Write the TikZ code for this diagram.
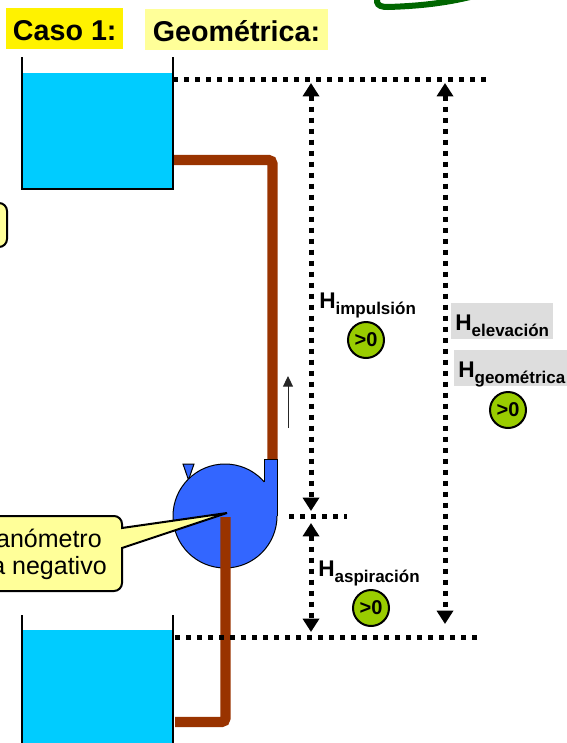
\documentclass[tikz,border=0pt]{standalone}
\usepackage{fontspec}
\setmainfont{Liberation Sans}
\usetikzlibrary{arrows.meta, positioning, calc}
\definecolor{water}{HTML}{00CCFF}
\definecolor{pipebrown}{HTML}{993300}
\definecolor{pumpblue}{HTML}{3366FF}
\definecolor{paleyellow}{HTML}{FFFF99}
\definecolor{limegreen}{HTML}{99CC00}
\definecolor{boxgray}{HTML}{DDDDDD}
\definecolor{darkgreen}{HTML}{006600}

\newcommand{\hsub}[1]{{\fontsize{17}{17}\selectfont H}\raisebox{-4.5pt}{\fontsize{12.75}{13}\selectfont #1}}

\begin{document}
\begin{tikzpicture}[
    x=0.75pt, y=-0.75pt,
    level line/.style={line width=3.75pt, dash pattern=on 3.75pt off 4.5pt},
    dim line/.style={level line, {Triangle[width=12pt,length=10pt]}-{Triangle[width=12pt,length=10pt]}},
    tube/.style={pipebrown, line width=7.75pt, rounded corners=3pt},
    tank wall/.style={line width=1.5pt},
    positive/.style={circle, fill=limegreen, draw, line width=1.5pt, minimum size=27pt, inner sep=0pt, font=\fontsize{15}{15}\selectfont\bfseries},
    head label/.style={anchor=base west, inner sep=0pt, font=\bfseries},
    gray label/.style={head label, fill=boxgray, inner xsep=3pt, text height=20.5pt, text depth=6.5pt},
    title box/.style={anchor=base, inner sep=0pt, text height=24.2pt, text depth=6.6pt, font=\fontsize{21.5}{22}\selectfont\bfseries},
    note text/.style={anchor=base east, inner sep=0pt, font=\fontsize{18.75}{20}\selectfont},
]
\useasboundingbox (0,0) rectangle (567,743);

\draw[darkgreen, line width=4.5pt, line cap=round] (377,-5) -- (377,2) .. controls (378,6) and (382,7) .. (388,7) .. controls (420,6) and (445,3) .. (470,-3);

\fill[water] (22,73) rectangle (173,189);
\draw[tank wall] (22,57) -- (22,189) -- (173,189) -- (173,57);
\fill[water] (22,630) rectangle (173,750);
\draw[tank wall] (22,615) -- (22,750);
\draw[tank wall] (173,615) -- (173,750);

\coordinate (upperOut) at (174,160);
\coordinate (outletTop) at (272.5,459);
\draw[tube] (upperOut) -| (outletTop);

\filldraw[fill=pumpblue, line width=0.75pt] (183,464) -- (194,464) -- (188.5,480) -- cycle;
\node[circle, fill=pumpblue, draw, line width=0.75pt, minimum size=78pt, inner sep=0pt] (pump) at (225,516) {};
\fill[pumpblue] (264,459) rectangle (277,516);
\draw[line width=0.75pt] (264,482) -- (264,459) -- (277,459) -- (277,516);

\coordinate (suctionTop) at (225.5,517);
\coordinate (lowerIn) at (175,722);
\draw[tube] (suctionTop) |- (lowerIn);

\coordinate (gauge) at (227,513);
\filldraw[fill=paleyellow, line width=1.5pt] (-10,516) [rounded corners=6pt]-- (122,516) [sharp corners]-- (122,528) -- (gauge) -- (122,548) [rounded corners=6pt]-- (122,591) -- (-10,591) -- cycle;
\node[note text] (gaugeA) at (102,547) {anómetro};
\node[note text] (gaugeB) at (107,574) {a negativo};

\filldraw[fill=paleyellow, line width=1.5pt, rounded corners=6pt] (-20,203) rectangle (7,247);

\coordinate (topLevelA) at (173,79);
\coordinate (topLevelB) at (488,79);
\coordinate (pumpLevelA) at (289,516);
\coordinate (pumpLevelB) at (347,516);
\coordinate (lowLevelA) at (175,637);
\coordinate (lowLevelB) at (483,637);
\draw[level line] (topLevelA) -- (topLevelB);
\draw[level line] (pumpLevelA) -- (pumpLevelB);
\draw[level line] (lowLevelA) -- (lowLevelB);

\coordinate (impTop) at (311,83);
\coordinate (impBot) at (311,511);
\coordinate (aspTop) at (311,523);
\coordinate (aspBot) at (311,632);
\coordinate (elevTop) at (445,83);
\coordinate (elevBot) at (445,624);
\draw[dim line] (impTop) -- (impBot);
\draw[dim line] (aspTop) -- (aspBot);
\draw[dim line] (elevTop) -- (elevBot);

\node[head label] (himp) at (319,308) {\hsub{impulsión}};
\node[positive] (himpSign) at (366,340) {>0};
\node[head label] (hasp) at (318,576) {\hsub{aspiración}};
\node[positive] (haspSign) at (371,608) {>0};
\node[gray label] (helev) at (451,330) {\hsub{elevación}};
\node[gray label] (hgeo) at (454,377) {\hsub{geométrica}};
\node[positive] (hgeoSign) at (508,410) {>0};

\coordinate (flowA) at (288,428);
\coordinate (flowB) at (288,376);
\draw[black!85, line width=0.75pt, -{Triangle[width=7.5pt,length=8pt]}] (flowA) -- (flowB);

\node[title box, fill=yellow, minimum width=87.4pt] (caso) at (64.75,40) {Caso 1:};
\node[title box, fill=paleyellow, minimum width=137.25pt] (geo) at (236.5,41.5) {Geométrica:};
\end{tikzpicture}
\end{document}
